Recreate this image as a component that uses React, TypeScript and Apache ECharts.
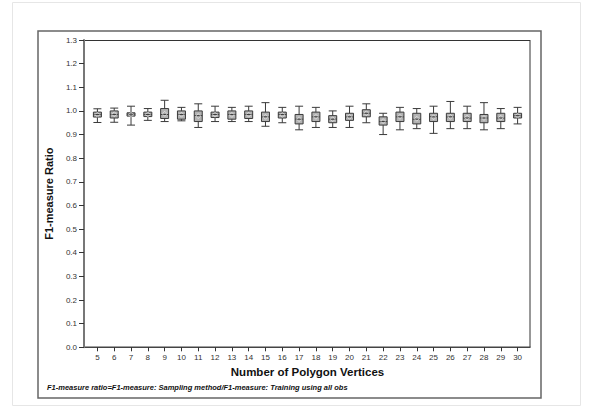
import React, { useEffect, useRef } from "react";
import * as echarts from "echarts";

const categories = ["5","6","7","8","9","10","11","12","13","14","15","16","17","18","19","20","21","22","23","24","25","26","27","28","29","30"];
const mins    = [0.951,0.952,0.940,0.960,0.955,0.958,0.930,0.955,0.955,0.955,0.935,0.950,0.920,0.930,0.930,0.930,0.950,0.900,0.920,0.925,0.905,0.925,0.925,0.920,0.925,0.945];
const q1s     = [0.974,0.970,0.978,0.976,0.968,0.965,0.955,0.972,0.965,0.968,0.955,0.970,0.945,0.955,0.950,0.960,0.975,0.940,0.955,0.945,0.955,0.955,0.955,0.950,0.955,0.970];
const medians = [0.985,0.985,0.986,0.985,0.985,0.985,0.980,0.985,0.985,0.985,0.975,0.985,0.965,0.975,0.965,0.975,0.990,0.955,0.975,0.965,0.975,0.975,0.970,0.970,0.970,0.980];
const q3s     = [0.995,1.000,0.992,0.995,1.010,1.000,1.000,0.995,1.000,1.000,0.995,0.995,0.985,0.995,0.980,0.990,1.005,0.975,0.995,0.990,0.990,0.990,0.990,0.985,0.990,0.990];
const maxs    = [1.009,1.012,1.020,1.010,1.045,1.015,1.030,1.020,1.015,1.020,1.035,1.015,1.020,1.015,1.000,1.020,1.030,0.990,1.015,1.010,1.020,1.040,1.020,1.035,1.010,1.015];
const means   = [0.984,0.986,0.984,0.985,0.988,0.984,0.978,0.984,0.983,0.984,0.975,0.983,0.965,0.975,0.965,0.975,0.990,0.957,0.975,0.967,0.973,0.975,0.972,0.970,0.971,0.980];
const yTicks = { min: 0, max: 1.3, interval: 0.1 };

const FONT = "'Liberation Sans', Arial, sans-serif";

export default function App() {
  const ref = useRef<HTMLDivElement>(null);
  useEffect(() => {
    if (!ref.current) return;
    const chart = echarts.init(ref.current, null, { renderer: "svg" });
    const boxData = categories.map((_, i) => [mins[i], q1s[i], medians[i], q3s[i], maxs[i]]);
    chart.setOption({
      animation: false,
      backgroundColor: "#ffffff",
      grid: { left: 89, right: 64, top: 40, bottom: 65.7 },
      xAxis: {
        type: "category",
        data: categories,
        name: "Number of Polygon Vertices",
        nameLocation: "middle",
        nameGap: 19,
        nameTextStyle: { fontFamily: FONT, fontSize: 11.5, fontWeight: "bold", color: "#111" },
        axisLine: { show: false },
        axisTick: { show: true, alignWithLabel: true, length: 4, lineStyle: { color: "#333", width: 1 } },
        axisLabel: { fontFamily: FONT, fontSize: 8, color: "#333", margin: 6 },
        splitLine: { show: false },
      },
      yAxis: {
        type: "value",
        min: yTicks.min,
        max: yTicks.max,
        interval: yTicks.interval,
        offset: 5,
        name: "F1-measure Ratio",
        nameLocation: "middle",
        nameGap: 24,
        nameTextStyle: { fontFamily: FONT, fontSize: 11, fontWeight: "bold", color: "#111" },
        axisLine: { show: true, lineStyle: { color: "#777", width: 2 } },
        axisTick: { show: true, length: 5, lineStyle: { color: "#333", width: 1 } },
        axisLabel: { fontFamily: FONT, fontSize: 8, color: "#333", margin: 7, formatter: (v: number) => v.toFixed(1) },
        splitLine: { show: false },
      },
      graphic: [
        { type: "rect", shape: { x: 12.5, y: 2.5, width: 568, height: 403 }, style: { fill: "none", stroke: "#e6e6e6", lineWidth: 1 }, silent: true, z: -10 },
        { type: "rect", shape: { x: 38, y: 31, width: 503, height: 367 }, style: { fill: "none", stroke: "#666", lineWidth: 1.5 }, silent: true, z: -5 },
        { type: "line", shape: { x1: 84, y1: 40.5, x2: 530, y2: 40.5 }, style: { stroke: "#333", lineWidth: 1 }, silent: true },
        { type: "line", shape: { x1: 530, y1: 40, x2: 530, y2: 347.3 }, style: { stroke: "#333", lineWidth: 1 }, silent: true },
        { type: "line", shape: { x1: 83, y1: 347.3, x2: 530.5, y2: 347.3 }, style: { stroke: "#444", lineWidth: 1.5 }, silent: true },
        {
          type: "text",
          x: 47,
          y: 387,
          style: {
            text: "F1-measure ratio=F1-measure: Sampling method/F1-measure: Training using all obs",
            fontFamily: FONT,
            fontSize: 7.5,
            fontStyle: "italic",
            fontWeight: "bold",
            fill: "#111",
            textVerticalAlign: "middle",
          },
          silent: true,
        },
      ],
      series: [
        {
          type: "boxplot",
          data: boxData,
          boxWidth: [8, 8],
          itemStyle: { color: "#b3b3b3", borderColor: "#3a3a3a", borderWidth: 1 },
        },
        {
          type: "scatter",
          data: means,
          symbol: "diamond",
          symbolSize: 5,
          itemStyle: { color: "rgba(0,0,0,0)", borderColor: "#eeeeee", borderWidth: 0.8 },
          z: 5,
        },
      ],
    });
    return () => chart.dispose();
  }, []);
  return <div ref={ref} style={{ position: "fixed", left: 0, top: 0, width: 590, height: 413 }} />;
}
